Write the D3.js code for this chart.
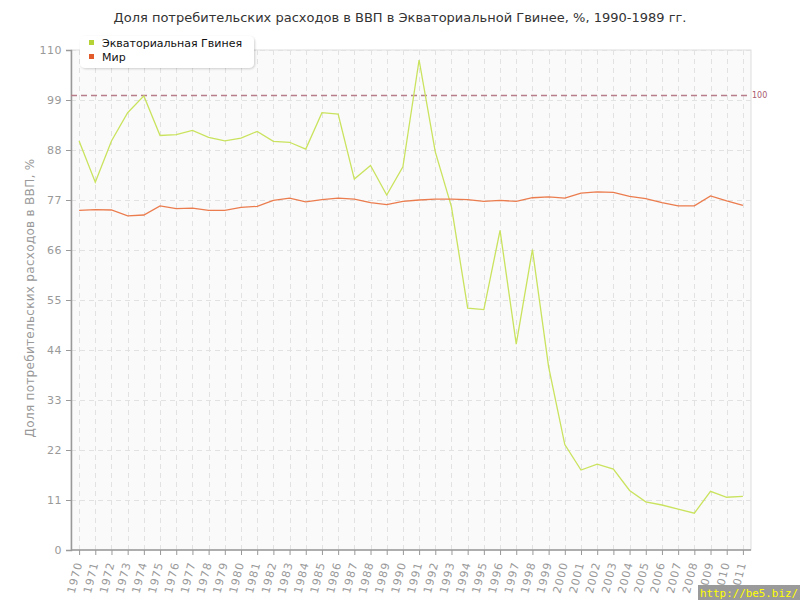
<!DOCTYPE html>
<html>
<head>
<meta charset="utf-8">
<script src="https://cdn.jsdelivr.net/npm/d3@7"></script>
<style>
  body { margin: 0; background: #fff; }
  svg { display: block; font-family: "DejaVu Sans", Verdana, sans-serif; }
</style>
</head>
<body>
<svg id="chart" width="800" height="600"></svg>
<script>
const title = "Доля потребительских расходов в ВВП в Экваториальной Гвинее, %, 1990-1989 гг.";
const yLabel = "Доля потребительских расходов в ВВП, %";
const years = d3.range(1970, 2012).map(String);
const seriesNames = ["Экваториальная Гвинея", "Мир"];
const guinea = [90.0, 80.9, 90.0, 96.2, 99.9, 91.2, 91.4, 92.3, 90.8, 90.0,
  90.6, 92.1, 89.9, 89.7, 88.2, 96.2, 95.9, 81.6, 84.6, 78.1,
  84.3, 107.8, 87.6, 75.5, 53.2, 52.9, 70.3, 45.3, 66.1, 40.3,
  23.2, 17.6, 18.9, 17.8, 13.1, 10.6, 9.9, 9.0, 8.1, 12.9,
  11.6, 11.8];
const world = [74.7, 74.9, 74.8, 73.5, 73.7, 75.7, 75.1, 75.2, 74.7, 74.7,
  75.4, 75.6, 76.9, 77.4, 76.6, 77.1, 77.4, 77.2, 76.4, 76.0,
  76.7, 77.0, 77.2, 77.2, 77.1, 76.7, 76.9, 76.7, 77.5, 77.7,
  77.4, 78.5, 78.8, 78.7, 77.8, 77.3, 76.4, 75.7, 75.7, 77.9,
  76.8, 75.8];
const yTicks = [0, 11, 22, 33, 44, 55, 66, 77, 88, 99, 110];
const refValue = 100;
const lineColors = ["#c9e35e", "#eb7c4e"];
const legendColors = ["#b5d334", "#e25b2a"];

const svg = d3.select("#chart");
const m = { left: 71, right: 751, top: 50, bottom: 550 };

const x = d3.scalePoint().domain(years).range([m.left, m.right]).padding(0.5);
const y = d3.scaleLinear().domain([0, 110]).range([m.bottom, m.top]);

// plot background
svg.append("rect").attr("x", m.left).attr("y", m.top)
  .attr("width", m.right - m.left).attr("height", m.bottom - m.top)
  .attr("fill", "#fafafa").attr("stroke", "#dddddd").attr("stroke-width", 1);

// grid
const grid = svg.append("g");
grid.selectAll("line.h").data(yTicks.filter(d => d > 0)).join("line")
  .attr("x1", m.left).attr("x2", m.right)
  .attr("y1", d => Math.round(y(d)) + 0.5).attr("y2", d => Math.round(y(d)) + 0.5)
  .attr("stroke", "#e2e2e2").attr("stroke-dasharray", "5,4");
grid.selectAll("line.v").data(years).join("line")
  .attr("x1", d => Math.round(x(d)) + 0.5).attr("x2", d => Math.round(x(d)) + 0.5)
  .attr("y1", m.top).attr("y2", m.bottom)
  .attr("stroke", "#e2e2e2").attr("stroke-dasharray", "5,4");

// axes
const yAxis = svg.append("g").attr("transform", `translate(${m.left},0)`)
  .call(d3.axisLeft(y).tickValues(yTicks).tickSize(5).tickPadding(4));
yAxis.select(".domain").attr("stroke", "#999").attr("stroke-width", 1.5);
yAxis.selectAll(".tick line").attr("stroke", "#999");
yAxis.selectAll("text").attr("fill", "#999").style("font-size", "11px")
  .style("font-family", "'DejaVu Sans', sans-serif").style("letter-spacing", "0.5px");

const xAxis = svg.append("g").attr("transform", `translate(0,${m.bottom})`)
  .call(d3.axisBottom(x).tickSize(5).tickSizeOuter(0));
xAxis.select(".domain").attr("stroke", "#999").attr("stroke-width", 1.5)
  .attr("d", `M${m.left},0H${m.right}`);
xAxis.selectAll(".tick line").attr("stroke", "#999");
xAxis.selectAll("text").attr("fill", "#999").style("font-size", "11px")
  .style("font-family", "'DejaVu Sans', sans-serif").style("letter-spacing", "1px")
  .attr("text-anchor", "end")
  .attr("dy", "0.35em")
  .attr("transform", "translate(-1,12) rotate(-76)")
  .attr("x", 0).attr("y", 0);

// reference line
svg.append("line").attr("x1", m.left).attr("x2", m.right)
  .attr("y1", y(refValue)).attr("y2", y(refValue))
  .attr("stroke", "#b87d8b").attr("stroke-width", 1.5).attr("stroke-dasharray", "6,4");
svg.append("text").attr("x", m.right + 1).attr("y", y(refValue) + 3)
  .attr("fill", "#a85a6e").style("font-size", "8px").text(String(refValue));

// lines
const data = [guinea, world];
const line = d3.line().x((d, i) => x(years[i])).y(d => y(d));
svg.append("g").selectAll("path").data(data).join("path")
  .attr("d", line).attr("fill", "none")
  .attr("stroke", (d, i) => lineColors[i]).attr("stroke-width", 1.3);

// title
svg.append("text").attr("x", 400).attr("y", 22).attr("text-anchor", "middle")
  .attr("fill", "#333").style("font-size", "13px").text(title);

// y label
svg.append("text").attr("transform", `translate(34,${(m.top + m.bottom) / 2 - 2}) rotate(-90)`)
  .attr("text-anchor", "middle").attr("fill", "#999").style("font-size", "12px")
  .style("letter-spacing", "0.3px").text(yLabel);

// legend
const defs = svg.append("defs");
const f = defs.append("filter").attr("id", "sh").attr("x", "-10%").attr("y", "-20%").attr("width", "130%").attr("height", "160%");
f.append("feDropShadow").attr("dx", 1).attr("dy", 1).attr("stdDeviation", 1.2).attr("flood-color", "#000").attr("flood-opacity", 0.18);
const lg = svg.append("g").attr("transform", "translate(80,36)");
lg.append("rect").attr("width", 174).attr("height", 32).attr("rx", 5)
  .attr("fill", "#fff").attr("filter", "url(#sh)");
seriesNames.forEach((n, i) => {
  lg.append("rect").attr("x", 9).attr("y", 4 + i * 14).attr("width", 5).attr("height", 5)
    .attr("fill", legendColors[i]);
  lg.append("text").attr("x", 22).attr("y", 11 + i * 14).attr("fill", "#111")
    .style("font-size", "11px").text(n);
});

// watermark
svg.append("rect").attr("x", 698).attr("y", 585).attr("width", 102).attr("height", 15).attr("fill", "#9a9a9a");
svg.append("text").attr("x", 700).attr("y", 597).attr("fill", "#ffff00")
  .style("font-family", "'DejaVu Sans Mono', monospace")
  .style("font-size", "11px")
  .attr("textLength", 98).attr("lengthAdjust", "spacingAndGlyphs")
  .text("http://be5.biz/");
</script>
</body>
</html>
